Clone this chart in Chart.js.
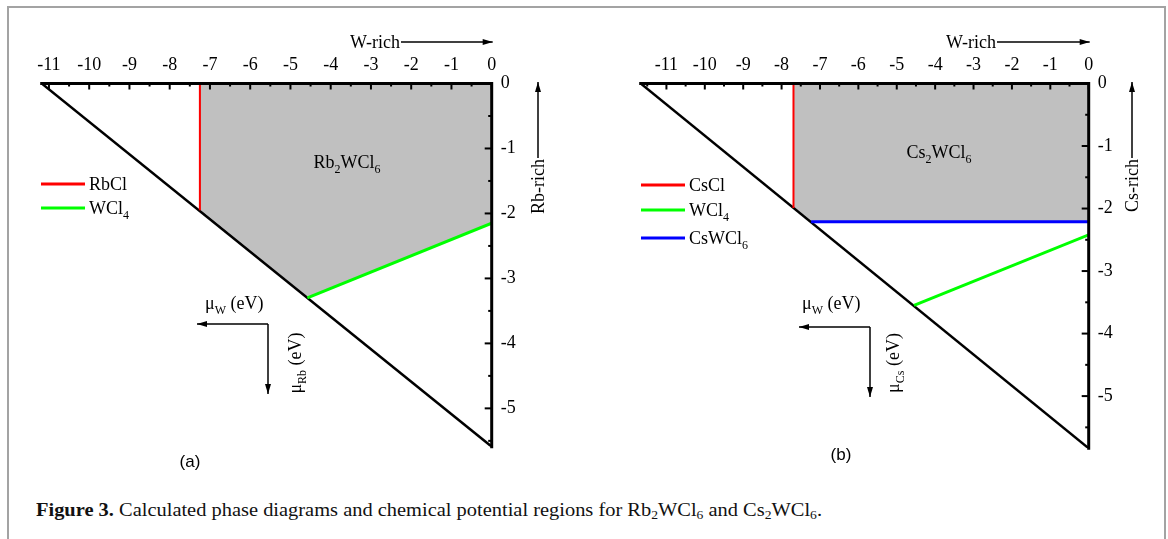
<!DOCTYPE html>
<html>
<head>
<meta charset="utf-8">
<script src="https://cdn.jsdelivr.net/npm/chart.js@4/dist/chart.umd.min.js"></script>
<style>
  body { margin: 0; background: #fff; width: 1168px; height: 539px; overflow: hidden; position: relative; }
  #frame { position: absolute; left: 7px; top: 6px; width: 1155px; height: 560px; border: 2px solid #a3a3a3; border-bottom: none; }
  canvas { position: absolute; top: 0; }
  #caption { position: absolute; left: 36px; top: 500px; font: 18px "Liberation Serif"; color: #111; white-space: nowrap; transform-origin: 0 50%; }
  #caption sub { font-size: 12px; vertical-align: -3px; line-height: 0; }
</style>
</head>
<body>
<div id="frame"></div>
<canvas id="panelA" width="584" height="480" style="left:0"></canvas>
<canvas id="panelB" width="584" height="480" style="left:584px"></canvas>
<div id="caption"><b>Figure 3.</b> Calculated phase diagrams and chemical potential regions for Rb<sub>2</sub>WCl<sub>6</sub> and Cs<sub>2</sub>WCl<sub>6</sub>.</div>
<script>
// tick values shared by both panels
const xTickValues = [-11, -10, -9, -8, -7, -6, -5, -4, -3, -2, -1, 0];
const xMinorValues = [-11.5, -10.5, -9.5, -8.5, -7.5, -6.5, -5.5, -4.5, -3.5, -2.5, -1.5, -0.5];
const yTickValues = [0, -1, -2, -3, -4, -5];
const yMinorValues = [-0.5, -1.5, -2.5, -3.5, -4.5, -5.5];

// (a) Rb2WCl6 : x = mu_W, y = mu_Rb (eV)
const rbLimit = [{x: -11.18, y: 0}, {x: 0, y: -5.59}];
const rbRegion = [{x: -7.25, y: 0}, {x: 0, y: 0}, {x: 0, y: -2.15}, {x: -4.58, y: -3.30}, {x: -7.25, y: -1.95}, {x: -7.25, y: 0}];
const rbRbCl = [{x: -7.25, y: 0}, {x: -7.25, y: -1.95}];
const rbWCl4 = [{x: -4.58, y: -3.30}, {x: 0, y: -2.15}];

// (b) Cs2WCl6 : x = mu_W, y = mu_Cs (eV)
const csLimit = [{x: -11.67, y: 0}, {x: 0, y: -5.835}];
const csRegion = [{x: -7.69, y: 0}, {x: 0, y: 0}, {x: 0, y: -2.21}, {x: -7.23, y: -2.21}, {x: -7.69, y: -1.99}, {x: -7.69, y: 0}];
const csCsCl = [{x: -7.69, y: 0}, {x: -7.69, y: -1.99}];
const csWCl4 = [{x: -4.55, y: -3.55}, {x: 0, y: -2.42}];
const csCsWCl6 = [{x: -7.23, y: -2.21}, {x: 0, y: -2.21}];

const SERIF = '"Liberation Serif"';

// draw text made of [text, isSubscript] parts, y is the baseline
function richText(ctx, parts, x, y, size, align) {
    const big = size + 'px ' + SERIF;
    const small = Math.round(size * 0.68) + 'px ' + SERIF;
    let w = 0;
    parts.forEach(p => { ctx.font = p[1] ? small : big; w += ctx.measureText(p[0]).width; });
    let cx = align === 'center' ? x - w / 2 : x;
    ctx.textAlign = 'left';
    ctx.textBaseline = 'alphabetic';
    parts.forEach(p => {
        ctx.font = p[1] ? small : big;
        ctx.fillText(p[0], cx, y + (p[1] ? size * 0.3 : 0));
        cx += ctx.measureText(p[0]).width;
    });
    return w;
}

function arrow(ctx, x1, y1, x2, y2) {
    ctx.lineWidth = 1.5;
    ctx.beginPath();
    ctx.moveTo(x1, y1);
    ctx.lineTo(x2, y2);
    ctx.stroke();
    const ang = Math.atan2(y2 - y1, x2 - x1);
    ctx.beginPath();
    ctx.moveTo(x2, y2);
    ctx.lineTo(x2 - 10 * Math.cos(ang) + 3 * Math.sin(ang), y2 - 10 * Math.sin(ang) - 3 * Math.cos(ang));
    ctx.lineTo(x2 - 10 * Math.cos(ang) - 3 * Math.sin(ang), y2 - 10 * Math.sin(ang) + 3 * Math.cos(ang));
    ctx.closePath();
    ctx.fill();
}

// axes, ticks and all annotation text
const decor = (p) => ({
    id: 'decor',
    afterDatasetsDraw(chart) {
        const {ctx, chartArea: a, scales: {x, y}} = chart;
        ctx.save();
        ctx.strokeStyle = '#000';
        ctx.fillStyle = '#000';
        ctx.lineCap = 'square';
        ctx.lineWidth = 3;
        ctx.beginPath();
        ctx.moveTo(a.left, a.top);
        ctx.lineTo(a.right, a.top);
        ctx.lineTo(a.right, a.bottom);
        ctx.stroke();

        ctx.lineCap = 'butt';
        ctx.lineWidth = 2;
        const tick = (vals, len, horiz) => vals.forEach(v => {
            if (horiz) {
                if (v < x.min) return;
                const px = x.getPixelForValue(v);
                ctx.beginPath(); ctx.moveTo(px, a.top); ctx.lineTo(px, a.top + len); ctx.stroke();
            } else {
                if (v < y.min) return;
                const py = y.getPixelForValue(v);
                ctx.beginPath(); ctx.moveTo(a.right, py); ctx.lineTo(a.right - len, py); ctx.stroke();
            }
        });
        tick(xTickValues, 6, true);
        tick(xMinorValues, 3, true);
        tick(yTickValues, 7, false);
        tick(yMinorValues, 3.5, false);

        ctx.font = '18px ' + SERIF;
        ctx.textAlign = 'center';
        ctx.textBaseline = 'alphabetic';
        xTickValues.forEach(v => ctx.fillText(String(v), x.getPixelForValue(v), 70));
        ctx.textAlign = 'left';
        ctx.textBaseline = 'middle';
        yTickValues.forEach(v => ctx.fillText(String(v), a.right + 9, y.getPixelForValue(v)));

        // W-rich arrow on top
        const w = richText(ctx, [['W-rich', 0]], p.wRich, 48, 18, 'left');
        arrow(ctx, p.wRich + w + 1, 42, a.right + 1, 42);

        // element-rich arrow on the right, rotated
        ctx.save();
        ctx.translate(p.richX, p.richY);
        ctx.rotate(-Math.PI / 2);
        const rw = richText(ctx, [[p.el + '-rich', 0]], 0, 6, 18, 'left');
        arrow(ctx, rw + 1, 0, p.richY - 82, 0);
        ctx.restore();

        // region label
        richText(ctx, [[p.el, 0], ['2', 1], ['WCl', 0], ['6', 1]], p.regionLabel[0], p.regionLabel[1] + 6, 18, 'center');

        // legend
        p.legend.forEach(item => {
            const ds = chart.data.datasets[item.ds];
            ctx.strokeStyle = ds.borderColor;
            ctx.lineWidth = 3;
            ctx.beginPath();
            ctx.moveTo(p.legendX, item.y);
            ctx.lineTo(p.legendX + 44, item.y);
            ctx.stroke();
            ctx.fillStyle = '#000';
            richText(ctx, item.parts, p.legendX + 48, item.y + 6, 18, 'left');
        });

        // mu_W / mu_X arrows
        ctx.strokeStyle = '#000';
        richText(ctx, [['\u03bc', 0], ['W', 1], [' (eV)', 0]], p.muW[0], p.muW[1] + 6, 18, 'left');
        const [cx, cy] = p.corner;
        arrow(ctx, cx, cy, cx - 71, cy);
        arrow(ctx, cx, cy, cx, cy + 70);
        ctx.save();
        ctx.translate(p.muEl[0], p.muEl[1]);
        ctx.rotate(-Math.PI / 2);
        richText(ctx, [['\u03bc', 0], [p.el, 1], [' (eV)', 0]], 0, 6, 18, 'center');
        ctx.restore();

        ctx.font = '17px "Liberation Sans"';
        ctx.textAlign = 'center';
        ctx.textBaseline = 'middle';
        ctx.fillText(p.tag, p.tagPos[0], p.tagPos[1]);
        ctx.restore();
    }
});

function makePanel(p) {
    return new Chart(document.getElementById(p.id), {
        type: 'line',
        data: { datasets: p.datasets },
        options: {
            responsive: false,
            animation: false,
            devicePixelRatio: 1,
            layout: { padding: p.padding },
            scales: {
                x: { type: 'linear', display: false, min: p.limit[0].x, max: 0 },
                y: { type: 'linear', display: false, min: p.limit[1].y, max: 0 }
            },
            plugins: { legend: { display: false }, tooltip: { enabled: false } },
            elements: { point: { radius: 0 }, line: { tension: 0 } }
        },
        plugins: [decor(p)]
    });
}

const lineSet = (label, data, color, width, order) => ({
    label: label, data: data, borderColor: color, borderWidth: width, fill: false, order: order
});
const regionSet = (label, data) => ({
    label: label, data: data, borderColor: '#5a5a5a', borderWidth: 1, backgroundColor: '#c0c0c0', fill: 'shape', order: 9
});

makePanel({
    id: 'panelA', el: 'Rb', tag: '(a)', limit: rbLimit,
    padding: {left: 41.7, right: 92.3, top: 83.5, bottom: 33.3},
    datasets: [
        regionSet('Rb2WCl6', rbRegion),
        lineSet('limit', rbLimit, '#000', 2.5, 3),
        lineSet('RbCl', rbRbCl, '#ff0000', 2, 1),
        lineSet('WCl4', rbWCl4, '#00ff00', 3, 1)
    ],
    wRich: 350, richX: 538, richY: 214, regionLabel: [347, 162],
    legendX: 41,
    legend: [
        {ds: 2, y: 184, parts: [['RbCl', 0]]},
        {ds: 3, y: 208, parts: [['WCl', 0], ['4', 1]]}
    ],
    muW: [205, 303], corner: [268, 324], muEl: [295, 363], tagPos: [190, 462]
});

makePanel({
    id: 'panelB', el: 'Cs', tag: '(b)', limit: csLimit,
    padding: {left: 56.7, right: 79.3, top: 83.5, bottom: 31.7},
    datasets: [
        regionSet('Cs2WCl6', csRegion),
        lineSet('limit', csLimit, '#000', 2.5, 3),
        lineSet('CsCl', csCsCl, '#ff0000', 2, 1),
        lineSet('WCl4', csWCl4, '#00ff00', 3, 1),
        lineSet('CsWCl6', csCsWCl6, '#0000ff', 3, 1)
    ],
    wRich: 362, richX: 548, richY: 212, regionLabel: [355, 152],
    legendX: 57,
    legend: [
        {ds: 2, y: 185, parts: [['CsCl', 0]]},
        {ds: 3, y: 210, parts: [['WCl', 0], ['4', 1]]},
        {ds: 4, y: 238, parts: [['CsWCl', 0], ['6', 1]]}
    ],
    muW: [218, 303], corner: [286, 327], muEl: [309, 363], tagPos: [257, 455]
});

// the caption font in the figure is wider than Liberation Serif: stretch it to the same width
const cap = document.getElementById('caption');
const target = 786;
cap.style.transform = 'scaleX(' + (target / cap.getBoundingClientRect().width).toFixed(4) + ')';
</script>
</body>
</html>
